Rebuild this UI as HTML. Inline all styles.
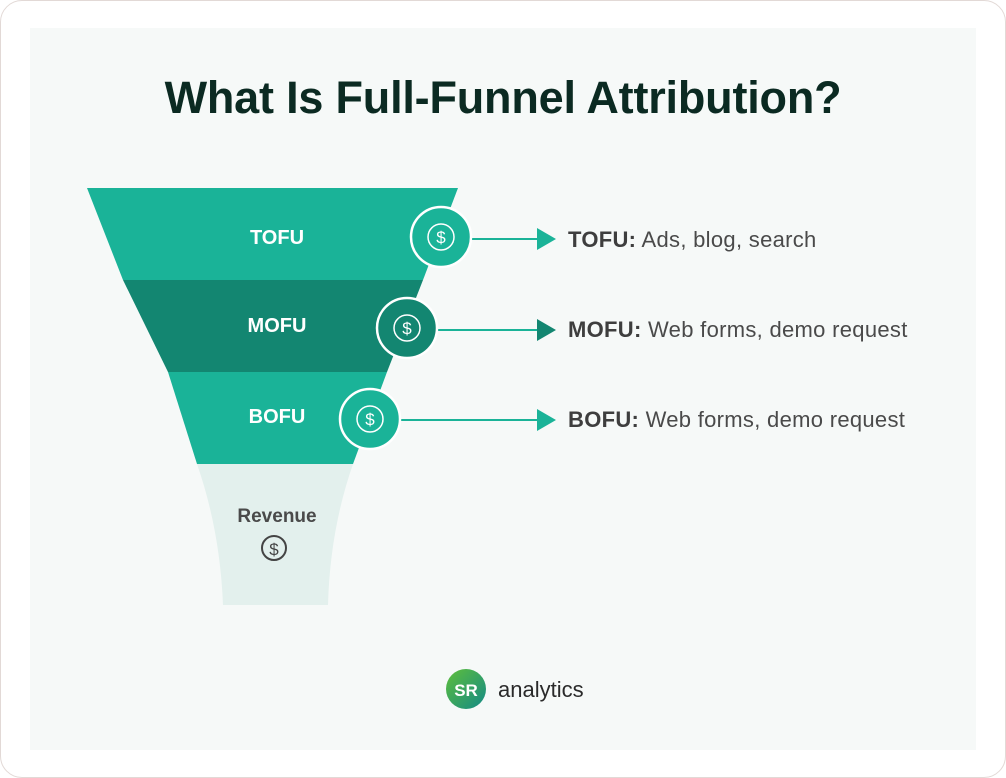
<!DOCTYPE html>
<html><head><style>
body{margin:0;width:1006px;height:778px;background:#fff;font-family:"Liberation Sans",sans-serif;overflow:hidden}
.frame{position:absolute;left:0;top:0;width:1004px;height:776px;border:1px solid #e2d9d6;border-radius:22px;background:#fff}
.panel{position:absolute;left:30px;top:28px;width:946px;height:722px;background:#f6f9f8}
h1{position:absolute;left:0;width:1006px;top:72px;margin:0;text-align:center;font-size:45px;font-weight:bold;color:#0b2a22;letter-spacing:-0.2px}
.lbl{position:absolute;font-size:22px;color:#4a4a4a;letter-spacing:0.3px}
.lbl b{color:#3e3e3e}
</style></head><body>
<div class="frame"></div><div class="panel"></div>
<h1>What Is Full-Funnel Attribution?</h1>
<svg width="1006" height="778" style="position:absolute;left:0;top:0">
<polygon points="87,188 458,188 423,280 123,280" fill="#1ab398"/>
<polygon points="123,280 423,280 387,372 168,372" fill="#138671"/>
<polygon points="168,372 387,372 353,464 197,464" fill="#1ab398"/>
<path d="M197,464 L353,464 Q330,530 328,605 L223,605 Q220,530 197,464 Z" fill="#e3f0ed"/>
<g font-family="Liberation Sans" font-weight="bold" font-size="20" fill="#fff" text-anchor="middle">
<text x="277" y="244">TOFU</text><text x="277" y="332">MOFU</text><text x="277" y="423">BOFU</text></g>
<text x="277" y="522" font-family="Liberation Sans" font-weight="bold" font-size="19" fill="#4a4a4a" text-anchor="middle">Revenue</text>
<circle cx="274" cy="548" r="12" fill="none" stroke="#444" stroke-width="2"/>
<text x="274" y="555" font-family="Liberation Sans" font-size="17" fill="#444" text-anchor="middle">$</text>
<g stroke="#1ab398" stroke-width="2">
<line x1="470" y1="239" x2="540" y2="239"/><line x1="437" y1="330" x2="540" y2="330"/><line x1="400" y1="420" x2="540" y2="420"/></g>
<polygon points="537,228 556,239 537,250" fill="#1ab398"/>
<polygon points="537,319 556,330 537,341" fill="#138671"/>
<polygon points="537,409 556,420 537,431" fill="#1ab398"/>
<g font-family="Liberation Sans" font-size="17" fill="#fff" text-anchor="middle">
<circle cx="441" cy="237" r="30" fill="#1ab398" stroke="#fff" stroke-width="2.5"/>
<circle cx="441" cy="237" r="13" fill="none" stroke="#fff" stroke-width="1.5"/><text x="441" y="243">$</text>
<circle cx="407" cy="328" r="30" fill="#138671" stroke="#fff" stroke-width="2.5"/>
<circle cx="407" cy="328" r="13" fill="none" stroke="#fff" stroke-width="1.5"/><text x="407" y="334">$</text>
<circle cx="370" cy="419" r="30" fill="#1ab398" stroke="#fff" stroke-width="2.5"/>
<circle cx="370" cy="419" r="13" fill="none" stroke="#fff" stroke-width="1.5"/><text x="370" y="425">$</text>
</g>
<defs><linearGradient id="g" x1="0" y1="0" x2="1" y2="1"><stop offset="0" stop-color="#5fbf3a"/><stop offset="1" stop-color="#138a86"/></linearGradient></defs>
<circle cx="466" cy="689" r="20" fill="url(#g)"/>
<text x="466" y="696" font-family="Liberation Sans" font-weight="bold" font-size="17" fill="#fff" text-anchor="middle">SR</text>
<text x="498" y="697" font-family="Liberation Sans" font-size="22" fill="#2a2a2a">analytics</text>
</svg>
<div class="lbl" style="left:568px;top:227px"><b>TOFU:</b> Ads, blog, search</div>
<div class="lbl" style="left:568px;top:317px"><b>MOFU:</b> Web forms, demo request</div>
<div class="lbl" style="left:568px;top:407px"><b>BOFU:</b> Web forms, demo request</div>
</body></html>
